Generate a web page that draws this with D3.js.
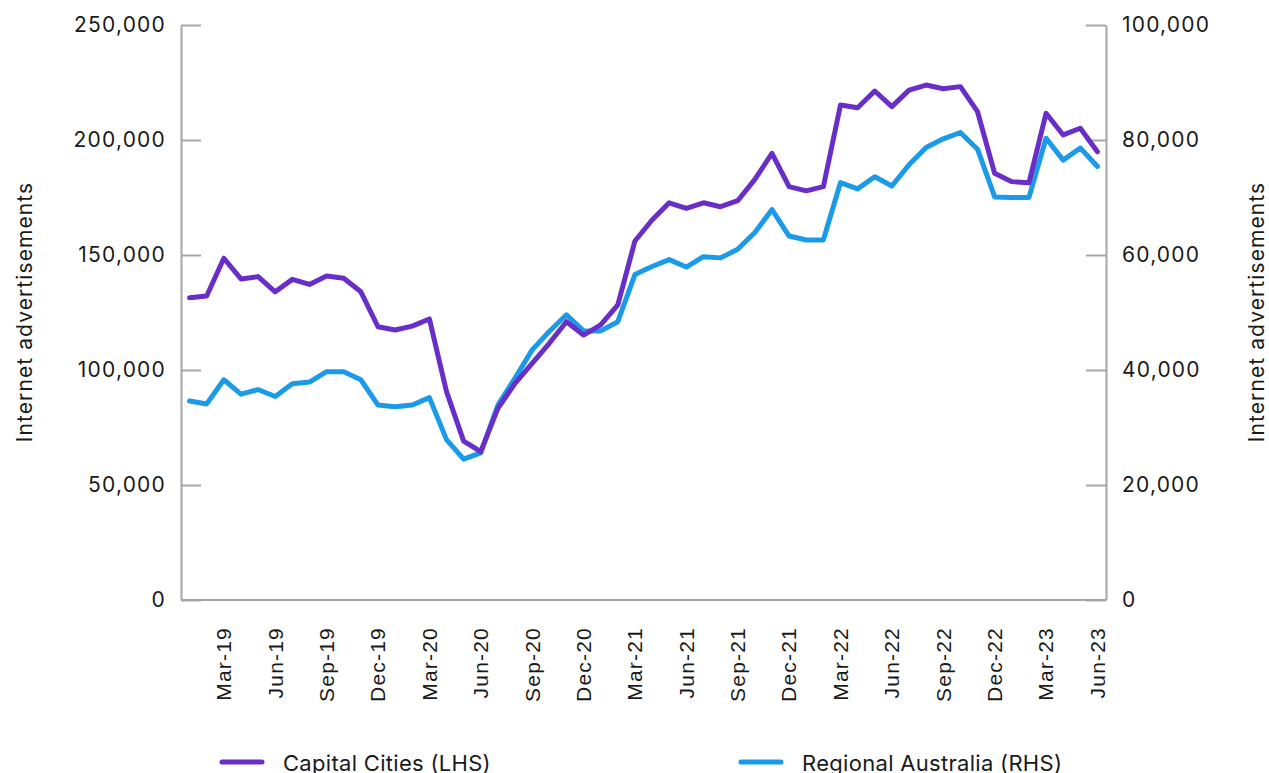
<!DOCTYPE html>
<html>
<head>
<meta charset="utf-8">
<script src="https://cdn.jsdelivr.net/npm/d3@7"></script>
<style>
html,body{margin:0;padding:0;background:#fff;}
svg{display:block;}
</style>
</head>
<body>
<svg id="chart" width="1269" height="773"></svg>
<script>
const months = ["Jan-19","Feb-19","Mar-19","Apr-19","May-19","Jun-19","Jul-19","Aug-19","Sep-19","Oct-19","Nov-19","Dec-19",
"Jan-20","Feb-20","Mar-20","Apr-20","May-20","Jun-20","Jul-20","Aug-20","Sep-20","Oct-20","Nov-20","Dec-20",
"Jan-21","Feb-21","Mar-21","Apr-21","May-21","Jun-21","Jul-21","Aug-21","Sep-21","Oct-21","Nov-21","Dec-21",
"Jan-22","Feb-22","Mar-22","Apr-22","May-22","Jun-22","Jul-22","Aug-22","Sep-22","Oct-22","Nov-22","Dec-22",
"Jan-23","Feb-23","Mar-23","Apr-23","May-23","Jun-23"];

const capitalCities = [131400,132200,148600,139600,140600,134000,139400,137200,140900,139900,134000,118800,
117400,119100,122200,90600,69100,64500,83300,94200,102900,111600,121000,115200,
119600,128300,156100,165200,172700,170300,172700,171000,173600,182900,194200,179700,
177900,179700,215200,214000,221300,214500,221700,223900,222300,223200,212300,185500,
181900,181400,211600,202200,205100,194900];

const regionalAustralia = [34600,34100,38300,35800,36600,35400,37600,37900,39700,39700,38300,33900,
33600,33900,35200,27900,24500,25600,33900,38600,43500,46700,49600,46800,
46800,48400,56600,58000,59200,57900,59700,59500,61000,63900,67900,63300,
62600,62600,72600,71500,73600,72000,75700,78700,80200,81300,78400,70100,
70000,70000,80300,76500,78600,75400];

const xTickLabels = ["Mar-19","Jun-19","Sep-19","Dec-19","Mar-20","Jun-20","Sep-20","Dec-20","Mar-21","Jun-21","Sep-21","Dec-21","Mar-22","Jun-22","Sep-22","Dec-22","Mar-23","Jun-23"];
const leftTicks = [0,50000,100000,150000,200000,250000];
const rightTicks = [0,20000,40000,60000,80000,100000];
const seriesNames = ["Capital Cities (LHS)","Regional Australia (RHS)"];

const purple = "#6a2ec8";
const blue = "#1a9ae8";
const axisGrey = "#a6a6a6";
const inkColor = "#1a1a1a";
const uiFont = "Inter, 'Noto Sans', sans-serif";

const svg = d3.select("#chart");
const L = 181, R = 1106, T = 25, B = 600;

const x = d3.scaleBand().domain(months).range([L, R]).padding(0);
const yL = d3.scaleLinear().domain([0, 250000]).range([B, T]);
const yR = d3.scaleLinear().domain([0, 100000]).range([B, T]);
const fmt = d3.format(",");

// left axis
const gL = svg.append("g").attr("transform", `translate(${L},0)`)
  .call(d3.axisLeft(yL).tickValues(leftTicks).tickFormat(fmt).tickSizeInner(-20).tickSizeOuter(0).tickPadding(15));
// right axis
const gR = svg.append("g").attr("transform", `translate(${R},0)`)
  .call(d3.axisRight(yR).tickValues(rightTicks).tickFormat(fmt).tickSizeInner(-20).tickSizeOuter(0).tickPadding(16));
[gL, gR].forEach(g => {
  g.select(".domain").attr("stroke", axisGrey).attr("stroke-width", 2);
  g.selectAll(".tick line").attr("stroke", axisGrey).attr("stroke-width", 2);
  g.selectAll(".tick text").attr("fill", inkColor)
    .style("font-family", uiFont).style("font-size", "21px").style("letter-spacing", "1.2px");
});

// bottom axis
const gB = svg.append("g").attr("transform", `translate(0,${B})`)
  .call(d3.axisBottom(x).tickValues(xTickLabels).tickSize(0).tickPadding(0));
gB.select(".domain").attr("stroke", axisGrey).attr("stroke-width", 2).attr("d", `M${L},0H${R}`);
gB.selectAll(".tick text")
  .attr("transform", "rotate(-90)")
  .attr("x", -27).attr("y", 0).attr("dy", "0.35em")
  .attr("text-anchor", "end")
  .attr("fill", inkColor)
  .style("font-family", "'Liberation Sans', Arial, sans-serif")
  .style("font-size", "21px")
  .style("letter-spacing", "1.2px");

// y-axis titles
[[32, 312], [1264, 312]].forEach(p => {
  svg.append("text").attr("transform", `translate(${p[0]},${p[1]}) rotate(-90)`)
    .attr("text-anchor", "middle").attr("fill", inkColor)
    .style("font-family", uiFont).style("font-size", "21px").style("letter-spacing", "1.1px")
    .text("Internet advertisements");
});

const cx = d => x(d) + x.bandwidth() / 2;

const lineL = d3.line().x((d, i) => cx(months[i])).y(d => yL(d));
const lineR = d3.line().x((d, i) => cx(months[i])).y(d => yR(d));

svg.append("path").datum(regionalAustralia).attr("d", lineR)
  .attr("fill", "none").attr("stroke", blue).attr("stroke-width", 5).attr("stroke-linejoin", "round").attr("stroke-linecap", "round");
svg.append("path").datum(capitalCities).attr("d", lineL)
  .attr("fill", "none").attr("stroke", purple).attr("stroke-width", 5).attr("stroke-linejoin", "round").attr("stroke-linecap", "round");

// legend
const legend = [
  {name: seriesNames[0], color: purple, x: 222},
  {name: seriesNames[1], color: blue, x: 741}
];
const lg = svg.append("g");
legend.forEach(d => {
  lg.append("line").attr("x1", d.x).attr("x2", d.x + 40).attr("y1", 762).attr("y2", 762)
    .attr("stroke", d.color).attr("stroke-width", 5).attr("stroke-linecap", "round");
  lg.append("text").attr("x", d.x + 61).attr("y", 771)
    .attr("fill", inkColor)
    .style("font-family", uiFont)
    .style("font-size", "22px")
    .style("letter-spacing", "0.3px")
    .text(d.name);
});
</script>
</body>
</html>
